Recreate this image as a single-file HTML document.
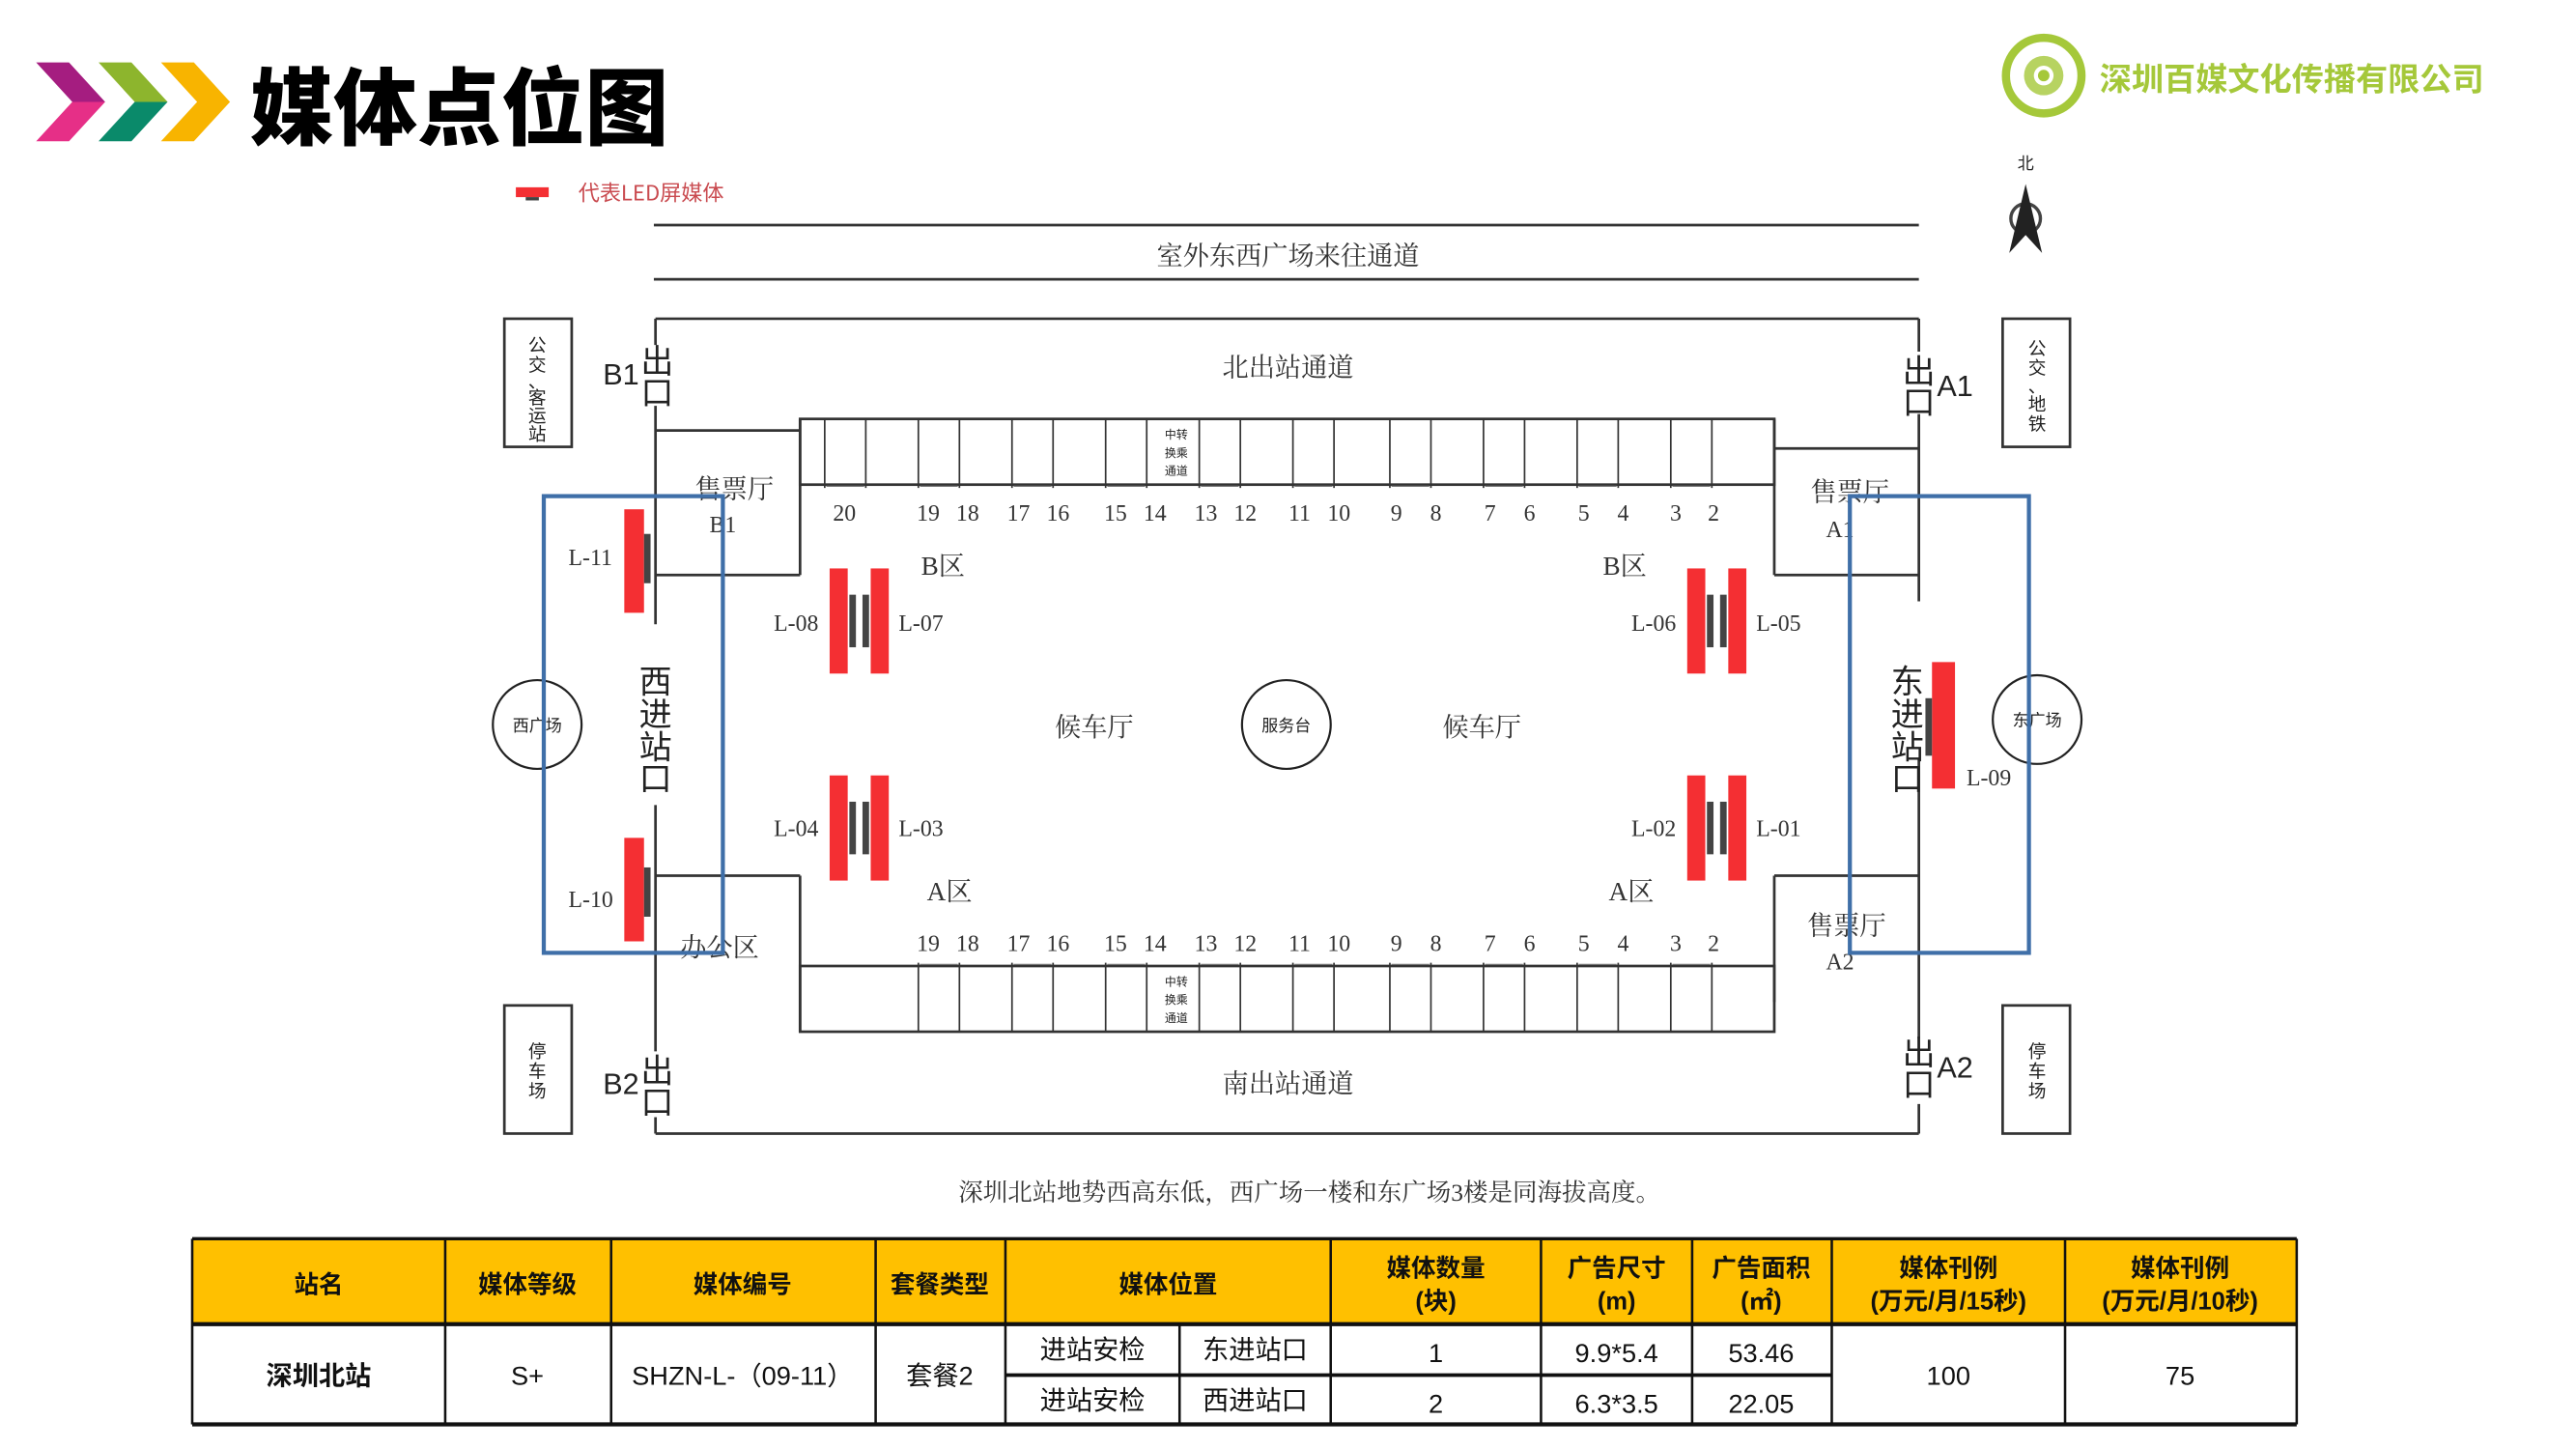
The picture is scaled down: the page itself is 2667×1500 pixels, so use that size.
<!DOCTYPE html>
<html><head><meta charset="utf-8"><style>
html,body{margin:0;padding:0;background:#fff;width:2667px;height:1500px;overflow:hidden}
svg{display:block}
.s{font-family:"Liberation Serif","Noto Serif CJK SC",serif;fill:#333}
.a{font-family:"Liberation Sans","Noto Sans CJK SC",sans-serif;fill:#222}
.ln{stroke:#333;stroke-width:1.6;fill:none}
.th{font-family:"Liberation Sans","Noto Sans CJK SC",sans-serif;font-weight:bold;font-size:15px;fill:#111;text-anchor:middle}
.td{font-family:"Liberation Sans","Noto Sans CJK SC",sans-serif;font-size:16px;fill:#111;text-anchor:middle}
</style></head><body>
<svg width="2667" height="1500" viewBox="0 0 1568 882" preserveAspectRatio="none" xmlns="http://www.w3.org/2000/svg">
<defs>
<linearGradient id="g1" x1="0" y1="0" x2="0" y2="1"><stop offset="0.5" stop-color="#a51d80"/><stop offset="0.5" stop-color="#e62f87"/></linearGradient>
<linearGradient id="g2" x1="0" y1="0" x2="0" y2="1"><stop offset="0.5" stop-color="#8db52d"/><stop offset="0.5" stop-color="#0a8a6a"/></linearGradient>
</defs>
<!-- header -->
<polygon points="22,38 42,38 64,62 42,86 22,86 44,62" fill="url(#g1)"/>
<polygon points="60,38 80,38 102,62 80,86 60,86 82,62" fill="url(#g2)"/>
<polygon points="98,38 118,38 140,62 118,86 98,86 120,62" fill="#f8b400"/>
<text x="152" y="84" font-family="'Noto Sans CJK SC',sans-serif" font-weight="900" font-size="51" fill="#000">媒体点位图</text>
<rect x="314" y="114" width="20" height="6" fill="#f42f33"/><rect x="320" y="120" width="8" height="2" fill="#444"/>
<text x="352" y="122" font-family="'Noto Sans CJK SC',sans-serif" font-size="13" fill="#c94a4f">代表LED屏媒体</text>
<!-- logo -->
<circle cx="1244" cy="46" r="23" fill="none" stroke="#a5c83a" stroke-width="5"/>
<circle cx="1244" cy="46" r="12" fill="#a5c83a" opacity="0.8"/>
<circle cx="1244" cy="46" r="6" fill="#fff"/><circle cx="1244" cy="46" r="3.5" fill="#a5c83a"/>
<text x="1278" y="55" font-family="'Noto Sans CJK SC',sans-serif" font-weight="bold" font-size="19.5" fill="#a5c83a">深圳百媒文化传播有限公司</text>
<!-- north -->
<text x="1233" y="103" text-anchor="middle" class="a" font-size="10">北</text>
<circle cx="1233" cy="133" r="9" fill="none" stroke="#444" stroke-width="2"/>
<polygon points="1233,112 1223,154 1233,143 1243,154" fill="#222"/>
<!-- top passage -->
<line x1="398" y1="137" x2="1168" y2="137" class="ln"/>
<text x="784" y="161" text-anchor="middle" class="s" font-size="16">室外东西广场来往通道</text>
<line x1="398" y1="170" x2="1168" y2="170" class="ln"/>
<!-- building outline -->
<line x1="399" y1="194" x2="1168" y2="194" class="ln"/>
<line x1="399" y1="690" x2="1168" y2="690" class="ln"/>
<path class="ln" d="M399,194V210 M399,247V380 M399,490V640 M399,680V690"/>
<path class="ln" d="M1168,194V214 M1168,252V366 M1168,462V632 M1168,672V690"/>
<!-- ticket halls -->
<path class="ln" d="M399,262H487 M399,350H487 M487,255V350"/>
<path class="ln" d="M1080,273H1168 M1080,350H1168 M1080,255V350"/>
<path class="ln" d="M399,533H487 M487,533V628"/>
<path class="ln" d="M1080,533H1168 M1080,533V610"/>
<!-- gate blocks -->
<rect x="487" y="255" width="593" height="40" class="ln"/>
<rect x="487" y="588" width="593" height="40" class="ln"/>
<g stroke="#333" stroke-width="1" fill="none">
<path d="M502,255V297 M527,255V297 M559,255V297 M584,255V297 M616,255V297 M641,255V297 M673,255V297 M698,255V297 M730,255V297 M755,255V297 M787,255V297 M812,255V297 M846,255V297 M871,255V297 M903,255V297 M928,255V297 M960,255V297 M985,255V297 M1017,255V297 M1042,255V297"/>
<path d="M559,586V628 M584,586V628 M616,586V628 M641,586V628 M673,586V628 M698,586V628 M730,586V628 M755,586V628 M787,586V628 M812,586V628 M846,586V628 M871,586V628 M903,586V628 M928,586V628 M960,586V628 M985,586V628 M1017,586V628 M1042,586V628"/>
</g>
<g stroke="#777" stroke-width="0.7" fill="none">
<path d="M503,296h23 M560,296h23 M617,296h23 M674,296h23 M731,296h23 M788,296h23 M847,296h23 M904,296h23 M961,296h23 M1018,296h23"/>
<path d="M560,587h23 M617,587h23 M674,587h23 M731,587h23 M788,587h23 M847,587h23 M904,587h23 M961,587h23 M1018,587h23"/>
</g>
<g class="a" font-size="7" text-anchor="middle">
<text x="716" y="267">中转</text><text x="716" y="278">换乘</text><text x="716" y="289">通道</text>
<text x="716" y="600">中转</text><text x="716" y="611">换乘</text><text x="716" y="622">通道</text>
</g>
<g class="s" font-size="14" text-anchor="middle">
<text x="514" y="317">20</text>
<text x="565" y="317">19</text><text x="589" y="317">18</text><text x="620" y="317">17</text><text x="644" y="317">16</text>
<text x="679" y="317">15</text><text x="703" y="317">14</text><text x="734" y="317">13</text><text x="758" y="317">12</text>
<text x="791" y="317">11</text><text x="815" y="317">10</text><text x="850" y="317">9</text><text x="874" y="317">8</text>
<text x="907" y="317">7</text><text x="931" y="317">6</text><text x="964" y="317">5</text><text x="988" y="317">4</text>
<text x="1020" y="317">3</text><text x="1043" y="317">2</text>
<text x="565" y="579">19</text><text x="589" y="579">18</text><text x="620" y="579">17</text><text x="644" y="579">16</text>
<text x="679" y="579">15</text><text x="703" y="579">14</text><text x="734" y="579">13</text><text x="758" y="579">12</text>
<text x="791" y="579">11</text><text x="815" y="579">10</text><text x="850" y="579">9</text><text x="874" y="579">8</text>
<text x="907" y="579">7</text><text x="931" y="579">6</text><text x="964" y="579">5</text><text x="988" y="579">4</text>
<text x="1020" y="579">3</text><text x="1043" y="579">2</text>
</g>
<!-- labels -->
<g class="s" font-size="16" text-anchor="middle">
<text x="784" y="229">北出站通道</text><text x="784" y="665">南出站通道</text>
<text x="666" y="448">候车厅</text><text x="902" y="448">候车厅</text>
<text x="574" y="350">B区</text><text x="989" y="350">B区</text>
<text x="578" y="548">A区</text><text x="993" y="548">A区</text>
<text x="447" y="303">售票厅</text><text x="1126" y="305">售票厅</text><text x="1124" y="569">售票厅</text>
<text x="438" y="582">办公区</text>
</g>
<g class="s" font-size="14" text-anchor="middle">
<text x="440" y="324">B1</text><text x="1120" y="327">A1</text><text x="1120" y="590">A2</text>
</g>
<!-- side boxes -->
<rect x="307" y="194" width="41" height="78" class="ln"/>
<rect x="1219" y="194" width="41" height="78" class="ln"/>
<rect x="307" y="612" width="41" height="78" class="ln"/>
<rect x="1219" y="612" width="41" height="78" class="ln"/>
<g class="a" font-size="11" text-anchor="middle">
<text x="327" y="214">公</text><text x="327" y="226">交</text><text x="327" y="236">、</text><text x="327" y="246">客</text><text x="327" y="257">运</text><text x="327" y="268">站</text>
<text x="1240" y="216">公</text><text x="1240" y="228">交</text><text x="1240" y="239">、</text><text x="1240" y="250">地</text><text x="1240" y="262">铁</text>
<text x="327" y="644">停</text><text x="327" y="656">车</text><text x="327" y="668">场</text>
<text x="1240" y="644">停</text><text x="1240" y="656">车</text><text x="1240" y="668">场</text>
</g>
<!-- exits -->
<g class="a" font-size="18">
<text x="367" y="234">B1</text><text x="367" y="666">B2</text>
<text x="1179" y="241">A1</text><text x="1179" y="656">A2</text>
</g>
<g class="a" font-size="20" text-anchor="middle">
<text x="400" y="227">出</text><text x="400" y="246">口</text>
<text x="400" y="659">出</text><text x="400" y="678">口</text>
<text x="1168" y="233">出</text><text x="1168" y="252">口</text>
<text x="1168" y="648">出</text><text x="1168" y="667">口</text>
<text x="399" y="422">西</text><text x="399" y="442">进</text><text x="399" y="462">站</text><text x="399" y="481">口</text>
<text x="1161" y="422">东</text><text x="1161" y="442">进</text><text x="1161" y="462">站</text><text x="1161" y="481">口</text>
</g>
<!-- circles -->
<g fill="none" stroke="#222" stroke-width="1.3">
<circle cx="327" cy="441" r="27"/><circle cx="783" cy="441" r="27"/><circle cx="1240" cy="438" r="27"/>
</g>
<g class="a" font-size="10" text-anchor="middle">
<text x="327" y="445">西广场</text><text x="783" y="445">服务台</text><text x="1240" y="442">东广场</text>
</g>
<!-- LEDs -->
<g fill="#f42f33">
<rect x="380" y="310" width="12" height="63"/><rect x="380" y="510" width="12" height="63"/>
<rect x="505" y="346" width="11" height="64"/><rect x="530" y="346" width="11" height="64"/>
<rect x="505" y="472" width="11" height="64"/><rect x="530" y="472" width="11" height="64"/>
<rect x="1027" y="346" width="11" height="64"/><rect x="1052" y="346" width="11" height="64"/>
<rect x="1027" y="472" width="11" height="64"/><rect x="1052" y="472" width="11" height="64"/>
<rect x="1176" y="403" width="14" height="77"/>
</g>
<g fill="#444">
<rect x="392" y="325" width="4" height="30"/><rect x="392" y="528" width="4" height="30"/>
<rect x="517" y="362" width="4" height="32"/><rect x="525" y="362" width="4" height="32"/>
<rect x="517" y="488" width="4" height="32"/><rect x="525" y="488" width="4" height="32"/>
<rect x="1039" y="362" width="4" height="32"/><rect x="1047" y="362" width="4" height="32"/>
<rect x="1039" y="488" width="4" height="32"/><rect x="1047" y="488" width="4" height="32"/>
<rect x="1172" y="425" width="4" height="35"/>
</g>
<g class="s" font-size="14">
<text x="346" y="344">L-11</text><text x="346" y="552">L-10</text>
<text x="471" y="384">L-08</text><text x="547" y="384">L-07</text>
<text x="471" y="509">L-04</text><text x="547" y="509">L-03</text>
<text x="993" y="384">L-06</text><text x="1069" y="384">L-05</text>
<text x="993" y="509">L-02</text><text x="1069" y="509">L-01</text>
<text x="1197" y="478">L-09</text>
</g>
<!-- blue highlight -->
<g fill="none" stroke="#3f6fa8" stroke-width="2.5">
<rect x="331" y="302" width="109" height="278"/>
<rect x="1126" y="302" width="109" height="278"/>
</g>
<text x="797" y="731" text-anchor="middle" class="s" font-size="15">深圳北站地势西高东低，西广场一楼和东广场3楼是同海拔高度。</text>
<!-- table -->
<rect x="117" y="754" width="1281" height="52" fill="#ffc000"/>
<g stroke="#111" stroke-width="1.5" fill="none">
<line x1="117" y1="754" x2="1398" y2="754" stroke-width="2"/>
<line x1="117" y1="806" x2="1398" y2="806" stroke-width="2.5"/>
<line x1="117" y1="867" x2="1398" y2="867" stroke-width="2.5"/>
<line x1="612" y1="837" x2="1115" y2="837" stroke-width="2.2"/>
<path d="M117,754V867 M271,754V867 M372,754V867 M533,754V867 M612,754V867 M810,754V867 M938,754V867 M1030,754V867 M1115,754V867 M1257,754V867 M1398,754V867 M718,806V867"/>
</g>
<text class="th" x="194" y="787">站名</text>
<text class="th" x="321" y="787">媒体等级</text>
<text class="th" x="452" y="787">媒体编号</text>
<text class="th" x="572" y="787">套餐类型</text>
<text class="th" x="711" y="787">媒体位置</text>
<text class="th" x="874" y="777">媒体数量</text><text class="th" x="874" y="797">(块)</text>
<text class="th" x="984" y="777">广告尺寸</text><text class="th" x="984" y="797">(m)</text>
<text class="th" x="1072" y="777">广告面积</text><text class="th" x="1072" y="797">(㎡)</text>
<text class="th" x="1186" y="777">媒体刊例</text><text class="th" x="1186" y="797">(万元/月/15秒)</text>
<text class="th" x="1327" y="777">媒体刊例</text><text class="th" x="1327" y="797">(万元/月/10秒)</text>
<text class="td" x="194" y="843" font-weight="bold">深圳北站</text>
<text class="td" x="321" y="843">S+</text>
<text class="td" x="452" y="843">SHZN-L-（09-11）</text>
<text class="td" x="572" y="843">套餐2</text>
<text class="td" x="665" y="827">进站安检</text><text class="td" x="764" y="827">东进站口</text>
<text class="td" x="665" y="858">进站安检</text><text class="td" x="764" y="858">西进站口</text>
<text class="td" x="874" y="829">1</text><text class="td" x="874" y="860">2</text>
<text class="td" x="984" y="829">9.9*5.4</text><text class="td" x="984" y="860">6.3*3.5</text>
<text class="td" x="1072" y="829">53.46</text><text class="td" x="1072" y="860">22.05</text>
<text class="td" x="1186" y="843">100</text>
<text class="td" x="1327" y="843">75</text>
</svg>
</body></html>
